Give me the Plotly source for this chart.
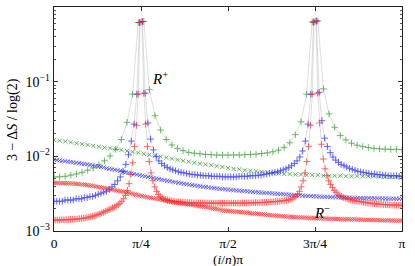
import numpy as np
import plotly.graph_objects as go

# ---------------- data (y = 3 - dS/log 2, x = i/n in units of pi) ----------------
n_green = 62
n_blue = 126
n_red = 190

green_plus = [0.0053, 0.0053, 0.0054, 0.0056, 0.0058, 0.0061, 0.0065, 0.0070, 0.0077, 0.0087,
              0.0101, 0.0124, 0.0168, 0.0285, 0.068, 0.62, 0.64, 0.078, 0.035, 0.0225,
              0.0168, 0.0142, 0.0127, 0.0119, 0.0113, 0.0110, 0.0108, 0.0106, 0.0105, 0.0104,
              0.0104, 0.0104, 0.0104, 0.0104, 0.0105, 0.0106, 0.0107, 0.0109, 0.0111, 0.0115,
              0.0121, 0.0132, 0.0152, 0.0195, 0.029, 0.068, 0.63, 0.65, 0.080, 0.037,
              0.0245, 0.019, 0.0166, 0.0150, 0.0141, 0.0135, 0.0131, 0.0128, 0.0126, 0.0125,
              0.0124, 0.0124, 0.0123]

green_cross = [0.0166, 0.0162, 0.0158, 0.0154, 0.0150, 0.0146, 0.0142, 0.0138, 0.0135, 0.0131,
               0.0128, 0.0125, 0.0122, 0.0118, 0.0115, 0.0112, 0.0108, 0.0105, 0.0102, 0.0099,
               0.0096, 0.0093, 0.0090, 0.0087, 0.0085, 0.0082, 0.0080, 0.0078, 0.0076, 0.0074,
               0.0072, 0.0070, 0.0068, 0.0067, 0.0065, 0.0064, 0.0063, 0.0062, 0.0061, 0.0060,
               0.0059, 0.0058, 0.0058, 0.0057, 0.0057, 0.0056, 0.0056, 0.0056, 0.0055, 0.0055,
               0.0055, 0.0055, 0.0054, 0.0054, 0.0054, 0.0054, 0.0054, 0.0054, 0.0053, 0.0053,
               0.0053, 0.0053, 0.0053]

blue_plus = [0.0025, 0.0025, 0.0025, 0.0025, 0.0026, 0.0026, 0.0026, 0.0026, 0.0027, 0.0027,
             0.0027, 0.0028, 0.0028, 0.0029, 0.0029, 0.0030, 0.0031, 0.0032, 0.0033, 0.0034,
             0.0036, 0.0039, 0.0042, 0.0047, 0.0053, 0.0063, 0.0078, 0.0105, 0.016, 0.027,
             0.068, 0.62, 0.64, 0.070, 0.028, 0.017, 0.0122, 0.0099, 0.0087, 0.0080,
             0.0075, 0.0071, 0.0068, 0.0066, 0.0064, 0.0062, 0.0061, 0.0060, 0.0059, 0.0058,
             0.0057, 0.0057, 0.0056, 0.0056, 0.0055, 0.0055, 0.0055, 0.0054, 0.0054, 0.0054,
             0.0054, 0.0053, 0.0053, 0.0053, 0.0053, 0.0053, 0.0053, 0.0054, 0.0054, 0.0054,
             0.0054, 0.0055, 0.0055, 0.0055, 0.0056, 0.0056, 0.0057, 0.0058, 0.0059, 0.0060,
             0.0061, 0.0062, 0.0064, 0.0066, 0.0068, 0.0071, 0.0075, 0.0080, 0.0087, 0.0098,
             0.0118, 0.016, 0.027, 0.068, 0.63, 0.65, 0.072, 0.030, 0.0175, 0.0135,
             0.0112, 0.0098, 0.0089, 0.0083, 0.0078, 0.0075, 0.0072, 0.0069, 0.0067, 0.0065,
             0.0063, 0.0062, 0.0061, 0.0060, 0.0059, 0.0058, 0.0058, 0.0057, 0.0057, 0.0056,
             0.0056, 0.0055, 0.0055, 0.0055, 0.0055, 0.0054, 0.0054]

blue_cross = [0.0090, 0.0089, 0.0088, 0.0087, 0.0086, 0.0085, 0.0084, 0.0083, 0.0082, 0.0081,
              0.0080, 0.0079, 0.0078, 0.0077, 0.0076, 0.0074, 0.0073, 0.0072, 0.0071, 0.0069,
              0.0068, 0.0067, 0.0066, 0.0065, 0.0064, 0.0062, 0.0061, 0.0060, 0.0059, 0.0058,
              0.00570, 0.00560, 0.00550, 0.00540, 0.00530, 0.00520, 0.00511, 0.00502, 0.00494, 0.00486,
              0.00478, 0.00470, 0.00463, 0.00456, 0.00449, 0.00442, 0.00436, 0.00430, 0.00424, 0.00418,
              0.00412, 0.00407, 0.00402, 0.00397, 0.00392, 0.00387, 0.00383, 0.00379, 0.00375, 0.00371,
              0.00368, 0.00365, 0.00362, 0.00359, 0.00356, 0.00353, 0.00350, 0.00347, 0.00344, 0.00342,
              0.00339, 0.00337, 0.00334, 0.00332, 0.00329, 0.00327, 0.00325, 0.00323, 0.00321, 0.00319,
              0.00317, 0.00315, 0.00313, 0.00311, 0.00309, 0.00307, 0.00305, 0.00303, 0.00301, 0.00300,
              0.00298, 0.00296, 0.00295, 0.00293, 0.00292, 0.00290, 0.00289, 0.00288, 0.00287, 0.00286,
              0.00285, 0.00284, 0.00283, 0.00282, 0.00281, 0.00280, 0.00280, 0.00279, 0.00278, 0.00278,
              0.00277, 0.00276, 0.00276, 0.00275, 0.00275, 0.00274, 0.00274, 0.00273, 0.00273, 0.00272,
              0.00272, 0.00271, 0.00271, 0.00271, 0.00270, 0.00270, 0.00270]

red_plus = [0.00140, 0.00140, 0.00140, 0.00140, 0.00141, 0.00141, 0.00141, 0.00142, 0.00142, 0.00143,
            0.00143, 0.00144, 0.00144, 0.00145, 0.00146, 0.00147, 0.00148, 0.00149, 0.00151, 0.00153,
            0.00155, 0.00157, 0.00160, 0.00163, 0.00166, 0.00170, 0.00174, 0.00178, 0.00183, 0.00188,
            0.00193, 0.00198, 0.00204, 0.00210, 0.00217, 0.00225, 0.00236, 0.00250, 0.00270, 0.00300,
            0.00350, 0.00430, 0.00570, 0.00820, 0.0135, 0.026, 0.068, 0.62,
            0.64, 0.070, 0.027, 0.0135, 0.0085, 0.0060, 0.0047, 0.0039, 0.0034, 0.0031,
            0.00290, 0.00280, 0.00270, 0.00265, 0.00260, 0.00256, 0.00253, 0.00250, 0.00248, 0.00246,
            0.00245, 0.00244, 0.00243, 0.00242, 0.00241, 0.00240, 0.00240, 0.00239, 0.00239, 0.00238,
            0.00238, 0.00238, 0.00237, 0.00237, 0.00237, 0.00237, 0.00236, 0.00236, 0.00236, 0.00236,
            0.00236, 0.00236, 0.00236, 0.00236, 0.00236, 0.00236, 0.00236, 0.00236, 0.00236, 0.00236,
            0.00236, 0.00236, 0.00236, 0.00236, 0.00236, 0.00237, 0.00237, 0.00237, 0.00237, 0.00238,
            0.00238, 0.00238, 0.00239, 0.00239, 0.00240, 0.00240, 0.00241, 0.00242, 0.00243, 0.00244,
            0.00245, 0.00246, 0.00247, 0.00248, 0.00249, 0.00250, 0.00252, 0.00254, 0.00256, 0.00258,
            0.00261, 0.00265, 0.00270, 0.00280, 0.00290, 0.00310, 0.00340, 0.00390, 0.00470, 0.00600,
            0.0085, 0.0135, 0.026, 0.068, 0.63,
            0.65, 0.070, 0.028, 0.0145, 0.0092, 0.0068, 0.0055, 0.0047, 0.0042, 0.0038,
            0.00350, 0.00330, 0.00310, 0.00300, 0.00290, 0.00280, 0.00275, 0.00270, 0.00265, 0.00260,
            0.00258, 0.00255, 0.00252, 0.00250, 0.00248, 0.00245, 0.00243, 0.00240, 0.00238, 0.00236,
            0.00235, 0.00233, 0.00232, 0.00230, 0.00229, 0.00228, 0.00227, 0.00226, 0.00225, 0.00225,
            0.00224, 0.00223, 0.00223, 0.00222, 0.00222, 0.00221, 0.00221, 0.00220]

red_cross = [0.00440, 0.00440, 0.00440, 0.00439, 0.00439, 0.00438, 0.00437, 0.00436, 0.00435, 0.00434,
             0.00432, 0.00430, 0.00428, 0.00426, 0.00424, 0.00421, 0.00418, 0.00415, 0.00412, 0.00409,
             0.00406, 0.00402, 0.00398, 0.00394, 0.00390, 0.00386, 0.00382, 0.00378, 0.00374, 0.00370,
             0.00366, 0.00362, 0.00358, 0.00354, 0.00350, 0.00346, 0.00342, 0.00338, 0.00334, 0.00330,
             0.00326, 0.00322, 0.00318, 0.00314, 0.00310, 0.00306, 0.00302, 0.00298, 0.00294, 0.00290,
             0.00287, 0.00284, 0.00281, 0.00278, 0.00275, 0.00272, 0.00269, 0.00266, 0.00263, 0.00260,
             0.00257, 0.00254, 0.00251, 0.00248, 0.00246, 0.00244, 0.00242, 0.00240, 0.00238, 0.00236,
             0.00234, 0.00232, 0.00230, 0.00228, 0.00226, 0.00224, 0.00222, 0.00220, 0.00218, 0.00216,
             0.00214, 0.00212, 0.00210, 0.00208, 0.00206, 0.00204, 0.00202, 0.00200, 0.00198, 0.00196,
             0.00194, 0.00192, 0.00190, 0.00188, 0.00187, 0.00186, 0.00185, 0.00184, 0.00183, 0.00182,
             0.00181, 0.00180, 0.00179, 0.00178, 0.00177, 0.00176, 0.00175, 0.00174, 0.00173, 0.00172,
             0.00171, 0.00170, 0.00169, 0.00168, 0.00167, 0.00166, 0.00165, 0.00164, 0.00163, 0.00162,
             0.00161, 0.00160, 0.00159, 0.00159, 0.00158, 0.00157, 0.00157, 0.00156, 0.00155, 0.00155,
             0.00154, 0.00154, 0.00153, 0.00153, 0.00152, 0.00152, 0.00151, 0.00151, 0.00150, 0.00150,
             0.00149, 0.00149, 0.00149, 0.00148, 0.00148, 0.00148, 0.00147, 0.00147, 0.00147, 0.00146,
             0.00146, 0.00146, 0.00146, 0.00145, 0.00145, 0.00145, 0.00145, 0.00144, 0.00144, 0.00144,
             0.00144, 0.00143, 0.00143, 0.00143, 0.00143, 0.00142, 0.00142, 0.00142, 0.00142, 0.00141,
             0.00141, 0.00141, 0.00141, 0.00140, 0.00140, 0.00140, 0.00140, 0.00140, 0.00139, 0.00139,
             0.00139, 0.00139, 0.00139, 0.00139, 0.00138, 0.00138, 0.00138, 0.00138, 0.00138, 0.00138,
             0.00138]

x_tickvals = [0, 0.25, 0.5, 0.75, 1.0]
x_ticktext = ["0", "π/4", "π/2", "3π/4", "π"]
y_tickvals = [1e-3, 1e-2, 1e-1, 1.0]
y_ticktext = ["10<sup>−3</sup>", "10<sup>−2</sup>", "10<sup>−1</sup>", "10<sup>0</sup>"]

# ---------------- figure ----------------
FONT = "Liberation Serif"
LINE_GREY = "rgba(160,160,160,0.7)"
colors = {"green": "#2a9a2a", "blue": "#2020ff", "red": "#ff2020"}

series = [
    ("green", n_green, green_plus, green_cross),
    ("blue", n_blue, blue_plus, blue_cross),
    ("red", n_red, red_plus, red_cross),
]

fig = go.Figure()

for name, n, yp, yc in series:
    for yy in (yp, yc):
        xx = np.arange(len(yy)) / n
        fig.add_trace(go.Scatter(x=xx, y=yy, mode="lines",
                                 line=dict(color=LINE_GREY, width=0.5),
                                 hoverinfo="skip"))

for name, n, yp, yc in series:
    col = colors[name]
    xx = np.arange(len(yc)) / n
    fig.add_trace(go.Scatter(x=xx, y=yc, mode="markers",
                             marker=dict(symbol="x-thin", size=4.2, color=col,
                                         line=dict(width=0.9, color=col)),
                             opacity=0.75))
    xx = np.arange(len(yp)) / n
    fig.add_trace(go.Scatter(x=xx, y=yp, mode="markers",
                             marker=dict(symbol="cross-thin", size=4.8, color=col,
                                         line=dict(width=0.9, color=col)),
                             opacity=0.75))

fig.add_annotation(x=0.305, y=np.log10(0.112), xref="x", yref="y",
                   text="<i>R</i><sup>+</sup>", showarrow=False,
                   font=dict(family=FONT, size=15, color="black"))
fig.add_annotation(x=0.77, y=np.log10(0.0018), xref="x", yref="y",
                   text="<i>R</i><sup>−</sup>", showarrow=False,
                   font=dict(family=FONT, size=15, color="black"))

# axis titles as paper annotations (placed like the reference)
fig.add_annotation(x=0.5, y=-0.127, xref="paper", yref="paper",
                   text="(<i>i</i>/<i>n</i>)π", showarrow=False,
                   xanchor="center", yanchor="middle",
                   font=dict(family=FONT, size=13.5, color="black"))
fig.add_annotation(x=-0.118, y=0.5, xref="paper", yref="paper",
                   text="3 − Δ<i>S</i> / log(2)", showarrow=False, textangle=-90,
                   xanchor="center", yanchor="middle",
                   font=dict(family=FONT, size=14, color="black"))

fig.update_layout(
    width=415, height=266,
    margin=dict(l=54, r=13, t=7, b=35, autoexpand=False),
    paper_bgcolor="white", plot_bgcolor="white",
    showlegend=False,
    font=dict(family=FONT, size=14, color="black"),
    xaxis=dict(range=[0, 1], tickvals=x_tickvals, ticktext=x_ticktext,
               ticks="inside", ticklen=4, tickcolor="#333",
               showline=True, linecolor="#222", linewidth=1.2, mirror="allticks",
               showgrid=False, zeroline=False, automargin=False,
               ticklabelstandoff=0,
               tickfont=dict(family=FONT, size=13.5)),
    yaxis=dict(type="log", range=[-3, 0], tickvals=y_tickvals, ticktext=y_ticktext,
               ticks="inside", ticklen=4, tickcolor="#333",
               showline=True, linecolor="#222", linewidth=1.2, mirror="allticks",
               showgrid=False, zeroline=False, automargin=False,
               minor=dict(ticks="inside", ticklen=2, tickcolor="#555",
                          tickvals=[m * 10.0 ** e for e in (-3, -2, -1) for m in range(2, 10)]),
               tickfont=dict(family=FONT, size=14)),
)

fig.write_html("out.html",
               config={"displayModeBar": False, "staticPlot": True},
               post_script="document.body.style.margin='0';document.body.style.padding='0';"
                           "document.documentElement.style.overflow='hidden';")
